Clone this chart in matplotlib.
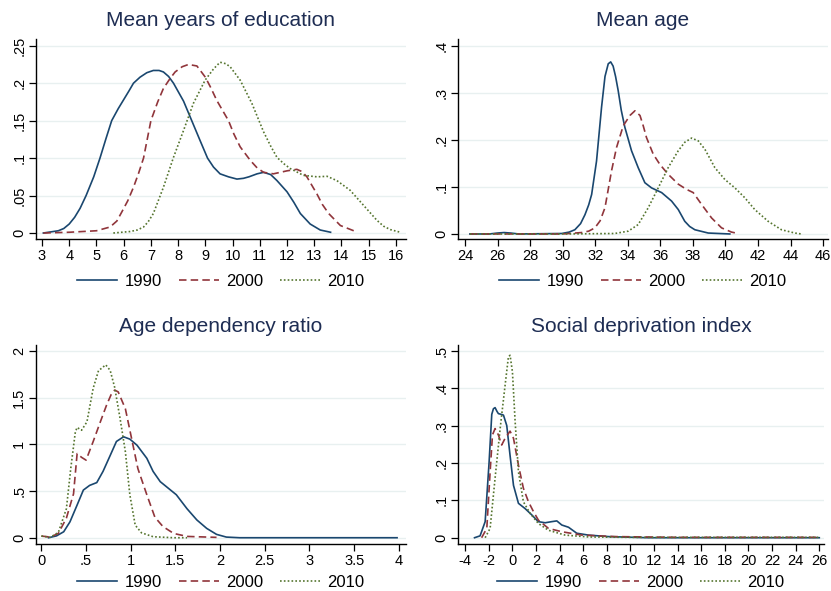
import matplotlib
matplotlib.use("Agg")
import matplotlib.pyplot as plt
from matplotlib.lines import Line2D

plt.rcParams['font.family'] = ['Liberation Sans', 'DejaVu Sans']

# ---------------- data ----------------
titles = ["Mean years of education", "Mean age", "Age dependency ratio", "Social deprivation index"]
years = ["1990", "2000", "2010"]

# Panel 1: Mean years of education
edu_x_1990 = [3.05, 3.6, 3.8, 4.0, 4.2, 4.4, 4.62, 4.9, 5.13, 5.35, 5.56, 5.8, 6.0, 6.2, 6.36, 6.6, 6.85, 7.09,
              7.3, 7.46, 7.65, 7.83, 8.2, 8.5, 8.8, 9.08, 9.3, 9.54, 9.85, 10.16, 10.4, 10.6, 10.9, 11.14, 11.4,
              11.63, 12.0, 12.25, 12.49, 12.85, 13.22, 13.6]
edu_y_1990 = [0.0, 0.003, 0.006, 0.012, 0.021, 0.033, 0.05, 0.075, 0.1, 0.126, 0.15, 0.166, 0.178, 0.19, 0.2,
              0.208, 0.214, 0.217, 0.217, 0.215, 0.209, 0.2, 0.176, 0.15, 0.124, 0.1, 0.088, 0.079, 0.075, 0.072,
              0.073, 0.075, 0.079, 0.081, 0.078, 0.07, 0.055, 0.041, 0.026, 0.012, 0.004, 0.001]
edu_x_2000 = [3.05, 4.0, 5.0, 5.5, 5.75, 5.93, 6.15, 6.36, 6.55, 6.73, 7.0, 7.25, 7.46, 7.7, 7.89, 8.15, 8.38,
              8.69, 9.0, 9.2, 9.42, 9.85, 10.05, 10.28, 10.65, 10.9, 11.14, 11.5, 12.0, 12.36, 12.55, 12.73, 13.1,
              13.3, 13.53, 13.96, 14.45]
edu_y_2000 = [0.0, 0.001, 0.003, 0.008, 0.016, 0.028, 0.043, 0.061, 0.08, 0.10, 0.15, 0.175, 0.193, 0.206,
              0.215, 0.222, 0.225, 0.223, 0.208, 0.194, 0.177, 0.150, 0.132, 0.115, 0.097, 0.087, 0.081, 0.079,
              0.083, 0.085, 0.082, 0.075, 0.052, 0.038, 0.026, 0.010, 0.003]
edu_x_2010 = [5.62, 6.24, 6.5, 6.73, 6.9, 7.09, 7.46, 7.83, 8.2, 8.56, 8.99, 9.3, 9.54, 9.75, 9.91, 10.28, 10.71,
              11.14, 11.4, 11.63, 11.9, 12.12, 12.6, 13.1, 13.47, 13.83, 14.32, 14.81, 15.3, 15.55, 15.8, 16.16]
edu_y_2010 = [0.0, 0.002, 0.004, 0.008, 0.015, 0.026, 0.061, 0.101, 0.137, 0.173, 0.204, 0.219, 0.228, 0.226,
              0.222, 0.204, 0.173, 0.135, 0.116, 0.101, 0.092, 0.086, 0.077, 0.075, 0.0757, 0.070, 0.057, 0.037,
              0.017, 0.009, 0.0045, 0.001]

# Panel 2: Mean age
age_x_1990 = [24.3, 25.5, 26.0, 26.4, 26.8, 27.3, 29.94, 30.4, 30.75, 31.1, 31.37, 31.6, 31.78, 32.08, 32.39,
              32.6, 32.8, 32.95, 33.1, 33.25, 33.41, 33.6, 33.82, 34.23, 34.64, 35.05, 35.46, 36.08, 36.69, 37.1,
              37.5, 37.8, 38.12, 38.94, 40.27]
age_y_1990 = [0.0, 0.0, 0.002, 0.003, 0.002, 0.0, 0.001, 0.004, 0.009, 0.022, 0.041, 0.062, 0.084, 0.155, 0.27,
              0.335, 0.362, 0.366, 0.357, 0.335, 0.305, 0.263, 0.227, 0.177, 0.141, 0.109, 0.098, 0.088, 0.07,
              0.052, 0.027, 0.016, 0.009, 0.002, 0.0]
age_x_2000 = [24.3, 30.0, 31.16, 31.6, 31.98, 32.3, 32.6, 33.0, 33.31, 33.72, 34.13, 34.44, 34.75, 34.95, 35.15,
              35.56, 35.97, 36.48, 37.1, 37.6, 38.02, 38.53, 39.15, 39.76, 40.37, 40.78]
age_y_2000 = [0.0, 0.0, 0.003, 0.006, 0.013, 0.028, 0.056, 0.134, 0.184, 0.23, 0.252, 0.262, 0.252, 0.23, 0.205,
              0.17, 0.148, 0.127, 0.106, 0.095, 0.088, 0.063, 0.034, 0.013, 0.004, 0.001]
age_x_2010 = [24.3, 30.0, 33.2, 34.03, 34.64, 35.26, 35.87, 36.48, 37.1, 37.5, 37.92, 38.33, 38.74, 39.35, 39.96,
              40.58, 41.19, 41.8, 42.62, 43.44, 44.26, 44.67]
age_y_2010 = [0.0, 0.0, 0.001, 0.006, 0.02, 0.056, 0.098, 0.141, 0.177, 0.195, 0.204, 0.198, 0.18, 0.141, 0.116,
              0.098, 0.077, 0.052, 0.027, 0.009, 0.002, 0.0]

# Panel 3: Age dependency ratio
dep_x_1990 = [0.08, 0.17, 0.25, 0.32, 0.4, 0.47, 0.54, 0.62, 0.69, 0.77, 0.84, 0.92, 0.99, 1.07, 1.18, 1.25,
              1.33, 1.42, 1.51, 1.63, 1.74, 1.85, 1.96, 2.07, 2.22, 3.0, 3.98]
dep_y_1990 = [0.0, 0.02, 0.064, 0.17, 0.35, 0.51, 0.56, 0.59, 0.71, 0.88, 1.03, 1.08, 1.055, 0.99, 0.85, 0.71,
              0.6, 0.53, 0.46, 0.31, 0.19, 0.1, 0.036, 0.007, 0.0, 0.0, 0.0]
dep_x_2000 = [0.0, 0.1, 0.19, 0.28, 0.36, 0.4, 0.45, 0.5, 0.58, 0.66, 0.73, 0.78, 0.82, 0.86, 0.94, 1.01, 1.08,
              1.18, 1.27, 1.36, 1.48, 1.63, 1.96]
dep_y_2000 = [0.018, 0.007, 0.046, 0.21, 0.47, 0.9, 0.86, 0.83, 1.03, 1.24, 1.42, 1.53, 1.58, 1.56, 1.38, 1.06,
              0.74, 0.46, 0.22, 0.12, 0.046, 0.014, 0.004]
dep_x_2010 = [0.0, 0.1, 0.19, 0.28, 0.33, 0.38, 0.4, 0.45, 0.51, 0.58, 0.64, 0.67, 0.72, 0.77, 0.82, 0.88, 0.94,
              0.99, 1.05, 1.12, 1.25, 1.48, 1.63]
dep_y_2010 = [0.018, 0.004, 0.057, 0.31, 0.75, 1.13, 1.18, 1.15, 1.24, 1.6, 1.79, 1.81, 1.85, 1.79, 1.61, 1.28,
              0.92, 0.46, 0.135, 0.053, 0.011, 0.0, 0.0]

# Panel 4: Social deprivation index
sdi_x_1990 = [-3.2, -2.73, -2.3, -1.97, -1.74, -1.6, -1.46, -1.3, -1.18, -0.95, -0.75, -0.47, -0.19, 0.1, 0.52,
              1.08, 1.65, 2.2, 2.78, 3.34, 3.77, 4.19, 4.76, 5.46, 6.45, 8.15, 11.5, 18.0, 26.0]
sdi_y_1990 = [0.0, 0.005, 0.043, 0.2, 0.33, 0.345, 0.348, 0.338, 0.332, 0.33, 0.328, 0.3, 0.22, 0.14, 0.092,
              0.078, 0.061, 0.043, 0.04, 0.043, 0.045, 0.034, 0.028, 0.012, 0.007, 0.003, 0.0, 0.0, 0.0]
sdi_x_2000 = [-2.6, -2.16, -1.88, -1.68, -1.46, -1.18, -0.9, -0.61, -0.19, 0.1, 0.52, 0.94, 1.37, 1.79, 2.21,
              3.06, 4.19, 5.89, 8.7, 14.0, 26.0]
sdi_y_2000 = [0.0, 0.025, 0.176, 0.275, 0.292, 0.275, 0.248, 0.266, 0.285, 0.266, 0.194, 0.132, 0.096, 0.07,
              0.047, 0.025, 0.016, 0.007, 0.003, 0.001, 0.001]
sdi_x_2010 = [-2.3, -1.88, -1.46, -1.03, -0.61, -0.33, -0.19, 0.01, 0.24, 0.52, 0.94, 1.51, 2.21, 3.06, 4.47,
              6.45, 10.0, 26.0]
sdi_y_2010 = [0.0, 0.025, 0.159, 0.292, 0.408, 0.484, 0.488, 0.444, 0.31, 0.176, 0.096, 0.065, 0.038, 0.02,
              0.007, 0.002, 0.001, 0.001]

# ticks
edu_xticks = list(range(3, 17))
edu_yticks = [0, 0.05, 0.1, 0.15, 0.2, 0.25]
edu_ylabels = ["0", ".05", ".1", ".15", ".2", ".25"]
age_xticks = list(range(24, 47, 2))
age_yticks = [0, 0.1, 0.2, 0.3, 0.4]
age_ylabels = ["0", ".1", ".2", ".3", ".4"]
dep_xticks = [0, 0.5, 1, 1.5, 2, 2.5, 3, 3.5, 4]
dep_xlabels = ["0", ".5", "1", "1.5", "2", "2.5", "3", "3.5", "4"]
dep_yticks = [0, 0.5, 1, 1.5, 2]
dep_ylabels = ["0", ".5", "1", "1.5", "2"]
sdi_xticks = list(range(-4, 27, 2))
sdi_yticks = [0, 0.1, 0.2, 0.3, 0.4, 0.5]
sdi_ylabels = ["0", ".1", ".2", ".3", ".4", ".5"]

# ---------------- styling ----------------
colors = ["#1a476f", "#90353b", "#55752f"]
styles = ["-", (0, (4.5, 2.5)), (0, (1, 1.3))]
grid_color = "#e8f0f0"
title_color = "#1e2d53"

W, H = 831, 591
fig = plt.figure(figsize=(W / 100, H / 100), dpi=100)
fig.patch.set_facecolor("white")


def px_axes(left, top, right, bottom):
    return fig.add_axes([left / W, 1 - bottom / H, (right - left) / W, (bottom - top) / H])


panels = [
    dict(pos=(36, 39, 406, 239), xs=[edu_x_1990, edu_x_2000, edu_x_2010], ys=[edu_y_1990, edu_y_2000, edu_y_2010],
         xlim=(2.78, 16.37), ylim=(-0.008, 0.259), xticks=edu_xticks, xlabels=[str(t) for t in edu_xticks],
         yticks=edu_yticks, ylabels=edu_ylabels, title=titles[0], leg=-0.14),
    dict(pos=(458, 39, 828, 239), xs=[age_x_1990, age_x_2000, age_x_2010], ys=[age_y_1990, age_y_2000, age_y_2010],
         xlim=(23.57, 46.3), ylim=(-0.0107, 0.4147), xticks=age_xticks, xlabels=[str(t) for t in age_xticks],
         yticks=age_yticks, ylabels=age_ylabels, title=titles[1], leg=-0.14),
    dict(pos=(36, 345, 406, 544), xs=[dep_x_1990, dep_x_2000, dep_x_2010], ys=[dep_y_1990, dep_y_2000, dep_y_2010],
         xlim=(-0.06, 4.08), ylim=(-0.067, 2.062), xticks=dep_xticks, xlabels=dep_xlabels,
         yticks=dep_yticks, ylabels=dep_ylabels, title=titles[2], leg=-0.12),
    dict(pos=(458, 345, 824, 544), xs=[sdi_x_1990, sdi_x_2000, sdi_x_2010], ys=[sdi_y_1990, sdi_y_2000, sdi_y_2010],
         xlim=(-4.6, 26.4), ylim=(-0.0168, 0.5155), xticks=sdi_xticks, xlabels=[str(t) for t in sdi_xticks],
         yticks=sdi_yticks, ylabels=sdi_ylabels, title=titles[3], leg=-0.12),
]

for p in panels:
    ax = px_axes(*p["pos"])
    for t in p["yticks"]:
        ax.axhline(t, color=grid_color, lw=1.0, zorder=0)
    for x, y, c, ls in zip(p["xs"], p["ys"], colors, styles):
        ax.plot(x, y, color=c, linestyle=ls, lw=1.2, zorder=2, solid_joinstyle="round")
    ax.set_xlim(*p["xlim"])
    ax.set_ylim(*p["ylim"])
    ax.set_xticks(p["xticks"])
    ax.set_xticklabels(p["xlabels"])
    ax.set_yticks(p["yticks"])
    ax.set_yticklabels(p["ylabels"], rotation=90, va="center")
    for s in ["top", "right"]:
        ax.spines[s].set_visible(False)
    for s in ["left", "bottom"]:
        ax.spines[s].set_linewidth(1.0)
        ax.spines[s].set_color("black")
    ax.tick_params(axis="both", direction="out", length=5, width=0.9, labelsize=10.5, pad=2, colors="black")
    ax.set_title(p["title"], fontsize=15, color=title_color, pad=9)
    handles = [Line2D([], [], color=c, linestyle=ls, lw=1.2) for c, ls in zip(colors, styles)]
    ax.legend(handles, years, loc="upper center", bbox_to_anchor=(0.5, p["leg"]), ncol=3, frameon=False,
              fontsize=12, handlelength=2.4, handletextpad=0.45, columnspacing=1.0, borderaxespad=0)

fig.savefig("out.png", dpi=100, facecolor="white")
